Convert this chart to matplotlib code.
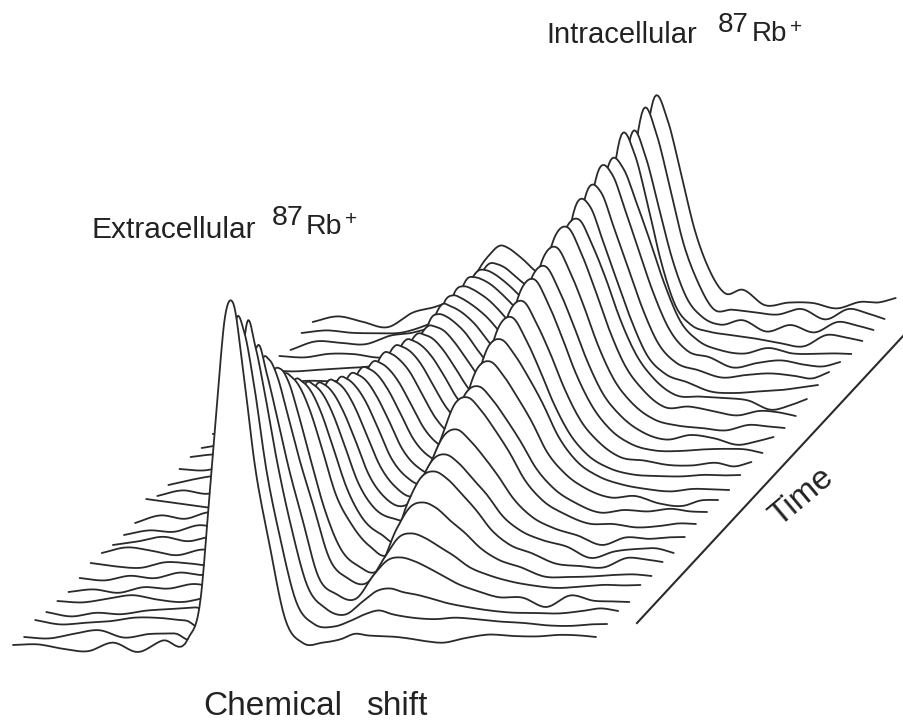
import numpy as np
import matplotlib
matplotlib.use("Agg")
import matplotlib.pyplot as plt

plt.rcParams['font.family'] = ['Liberation Sans', 'DejaVu Sans']

# chemical shift sample positions (arbitrary units along a trace)
shift = np.array([0,25,50,75,100,125,150,175,
                  188,196,204,212,220,230,242,256,272,290,
                  310,328,342,355,368,382,396,412,
                  430,452,476,500,524,548,566,583], float)

# signal intensity per time step (front trace first)
t00 = [0,0,-5,-8,0,-10,1,2, 45,139,236,323,337,270,173,97,20,-5, -5,-2,3,1,0,-1,-3,-6, -8,-4,-1,-3,-4,-3,-4,-6]
t01 = [-4,-6,-2,1,-7,-4,-4,-2, 45,134,229,308,296,242,159,89,25,2, -1,5,11,14,10,7,5,4, 5,3,0,-2,-5,-6,-5,-5]
t02 = [1,-4,-3,-2,1,0,-3,-3, 44,132,220,294,270,220,153,88,29,6, -1,12,22,24,20,17,13,8, 4,0,-3,-4,-5,-3,-1,-4]
t03 = [-3,-8,-5,-7,-4,-3,-2,-2, 53,132,224,259,232,190,137,84,26,8, 3,27,41,43,39,32,24,15, 8,1,0,-10,1,-5,-6,-7]
t04 = [-4,-6,-3,0,-5,-8,-4,-2, 60,150,228,232,215,178,132,85,32,12, 7,33,52,55,50,41,32,20, 12,5,0,-3,-2,-1,-2,-2]
t05 = [-7,-5,-9,-4,-6,-2,-6,-3, 60,150,205,211,198,165,120,70,30,12, 8,48,70,74,68,55,43,27, 15,7,-3,-4,-4,-3,-3,-5]
t06 = [-5,-8,-4,-7,-2,-5,0,-4, 96,164,193,191,181,158,120,73,42,20, 13,62,88,93,85,70,54,33, 18,9,-2,-5,-7,2,0,-3]
t07 = [-2,-6,-8,-3,-5,-8,-3,-1, 88,150,176,174,165,144,109,67,36,20, 14,66,93,98,89,73,57,35, 20,10,3,-9,-3,-1,-1,-6]
t08 = [-4,1,-3,-8,-3,-6,-1,-4, 80,137,161,159,151,132,100,61,35,24, 27,76,105,111,100,83,64,40, 22,10,2,-8,-1,-3,-2,-2]
t09 = [-8,-5,-1,-6,-2,-7,-3,-1, 74,126,148,147,139,121,92,56,33,24, 43,90,125,131,118,98,76,47, 26,12,2,1,-3,-2,0,-1]
t10 = [-10,-6,-8,-2,-6,-1,-4,-6, 70,118,139,138,131,114,86,53,31,22, 48,90,124,130,117,97,75,47, 26,11,1,3,1,3,0,-1]
t11 = [-10,-3,-7,-1,-8,-3,-6,-2, 65,110,130,129,122,107,81,49,29,22, 48,98,136,143,129,107,83,51, 29,13,4,5,-3,-6,-1,-1]
t12 = [2,-2,-6,-9,-3,1,-5,-3, 61,104,122,121,115,100,76,46,27,21, 50,105,146,153,138,115,89,55, 30,14,5,0,-3,-1,-2,-3]
t13 = [-7,-2,-6,0,-3,-7,-2,-4, 58,99,116,115,109,95,72,44,26,21, 52,112,155,163,142,111,77,46, 24,10,3,1,0,1,0,0]
t14 = [-8,-3,0,-4,-7,-2,-5,-1, 55,94,110,109,103,90,68,42,25,21, 55,115,159,167,145,114,79,47, 25,9,5,0,-1,1,-3,1]
t15 = [-4,-6,-2,-7,-3,0,-4,-2, 53,91,107,106,100,88,66,41,24,22, 55,122,168,177,154,120,83,50, 26,10,3,2,3,3,2,-2]
t16 = [-4,-2,-5,-1,-4,-6,-2,-3, 51,87,102,101,96,84,63,39,23,22, 55,122,169,178,155,121,84,50, 27,10,2,6,2,-5,-2,2]
t17 = [-7,-4,-7,-3,-5,-2,-4,-3, 48,82,96,95,90,79,60,36,22,22, 58,127,176,185,161,126,87,52, 28,11,4,1,-2,3,1,-1]
t18 = [-5,-3,-4,-2,-3,-4,-2,-2, 45,77,90,89,85,74,56,34,20,22, 60,133,184,193,168,131,91,54, 29,11,11,6,1,5,3,-1]
t19 = [-4,-2,-3,-4,-2,-3,-2,-1, 50,75,86,85,81,70,53,33,20,21, 58,130,180,189,164,129,89,53, 28,11,9,7,4,-6,-2,4]
t20 = [-3,-2,-2,-3,-2,-1,1,12, 60,82,86,83,77,67,50,32,20,22, 52,135,194,190,155,115,76,40, 21,12,2,0,1,2,4,6]
t21 = [-2,-1,-3,-2,-1,0,3,22, 70,84,82,78,72,62,46,30,20,22, 52,135,196,192,156,116,76,40, 20,12,4,6,7,4,1,7]
t22 = [-2,-3,-1,-2,0,2,6,32, 76,81,78,73,67,58,44,28,20,23, 55,140,204,198,162,120,79,42, 20,13,2,6,8,3,1,5]
t23 = [-1,-3,-2,-1,0,4,12,40, 75,78,75,70,64,54,40,26,18,22, 55,138,200,192,158,118,76,38, 18,8,4,9,3,2,2,1]
t24 = [1,-1,2,1,-3,0,5,45, 74,75,72,67,60,50,37,24,18,23, 60,135,214,195,145,85,42,22, 15,11,7,2,-2,9,6,2]
t25 = [-5,3,1,-1,7,10,20,52, 70,70,66,60,53,43,32,21,15,20, 55,130,205,180,130,76,38,18, 10,14,2,8,0,10,6,1]
t26 = [0,2,-1,-2,-2,5,16,48, 65,64,60,53,46,38,28,19,15,22, 60,140,216,190,138,80,42,14, 13,10,7,12,1,11,6,0]
t27 = [-1,4,-2,-8,6,12,24,60, 71,68,62,55,47,39,29,20,15,22, 60,140,216,192,140,82,43,18, 21,5,7,6,0,6,5,9]
traces = [t00,t01,t02,t03,t04,t05,t06,t07,t08,t09,t10,t11,t12,t13,t14,
          t15,t16,t17,t18,t19,t20,t21,t22,t23,t24,t25,t26,t27]

time_axis_x = [637, 904]
time_axis_y = [623, 335]


def smooth(xs, ys, n=8):
    """Piecewise cubic through every read value."""
    m = np.gradient(ys, xs)
    out_x, out_y = [], []
    for i in range(len(xs) - 1):
        d = xs[i + 1] - xs[i]
        u = np.linspace(0, 1, n, endpoint=False)
        h00 = 2*u**3 - 3*u**2 + 1
        h10 = u**3 - 2*u**2 + u
        h01 = -2*u**3 + 3*u**2
        h11 = u**3 - u**2
        out_x.append(xs[i] + u*d)
        out_y.append(h00*ys[i] + h10*d*m[i] + h01*ys[i+1] + h11*d*m[i+1])
    out_x.append([xs[-1]])
    out_y.append([ys[-1]])
    return np.concatenate(out_x), np.concatenate(out_y)


fig = plt.figure(figsize=(9.04, 7.24), dpi=100)
ax = fig.add_axes([0, 0, 1, 1])
ax.set_xlim(0, 904)
ax.set_ylim(724, 0)
ax.axis('off')

ink = '#2a2a2a'
for k in range(len(traces) - 1, -1, -1):
    sx, h = smooth(shift, np.array(traces[k], float))
    x = 13 + 11.1*k + sx
    base = 645 - 12.0*k - 14*sx/583
    y = base - h
    z = 2*(len(traces) - k)
    ax.fill_between(x, np.minimum(y, base), base, color='white', lw=0, zorder=z)
    ax.plot(x, y, color=ink, lw=1.3, solid_capstyle='round', zorder=z + 1)

ax.plot(time_axis_x, time_axis_y, color=ink, lw=1.5, zorder=100)

tc = '#222222'
ax.text(92, 238, 'Extracellular', fontsize=21.5, color=tc, va='baseline', ha='left')
ax.text(272, 225, '87', fontsize=20.5, color=tc, va='baseline', ha='left')
ax.text(306, 234, 'Rb', fontsize=20.5, color=tc, va='baseline', ha='left')
ax.text(345, 225, '+', fontsize=15, color=tc, va='baseline', ha='left')
ax.text(546, 43, 'Intracellular', fontsize=21, color=tc, va='baseline', ha='left')
ax.text(718, 32, '87', fontsize=20, color=tc, va='baseline', ha='left')
ax.text(752, 41, 'Rb', fontsize=20, color=tc, va='baseline', ha='left')
ax.text(790, 33, '+', fontsize=15, color=tc, va='baseline', ha='left')
ax.text(203, 715, 'Chemical', fontsize=24, color=tc, va='baseline', ha='left')
ax.text(366, 715, 'shift', fontsize=24, color=tc, va='baseline', ha='left')
ax.text(802, 497, 'Time', fontsize=24, color=tc, rotation=40, va='center', ha='center',
        rotation_mode='anchor')

fig.savefig('out.png', dpi=100)
